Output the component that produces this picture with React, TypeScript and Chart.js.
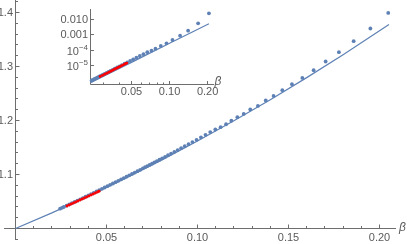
import React, { useEffect, useRef } from "react";
import { Chart, registerables } from "chart.js";

Chart.register(...registerables);

// ---------- main plot data ----------
const mainLineX = [0, 0.02, 0.04, 0.06, 0.08, 0.1, 0.12, 0.14, 0.16, 0.18, 0.2, 0.2052];
const mainLineY = [1, 1.029, 1.0598, 1.0922, 1.1262, 1.162, 1.1994, 1.2386, 1.2794, 1.3218, 1.366, 1.3778];

const mainBlueX = [
  0.0245, 0.0255, 0.0265, 0.028, 0.0295, 0.031, 0.0325, 0.034, 0.0355, 0.037, 0.0385, 0.04, 0.0415, 0.043,
  0.0445, 0.046, 0.0475, 0.049, 0.0505, 0.052, 0.0535, 0.055, 0.0565, 0.058, 0.0595, 0.061, 0.0625, 0.064,
  0.0655, 0.067, 0.0685, 0.07, 0.0712, 0.0724, 0.0737, 0.075, 0.0763, 0.0777, 0.0791, 0.0806, 0.0822, 0.0838,
  0.0855, 0.0873, 0.0891, 0.091, 0.093, 0.0951, 0.0972, 0.0995, 0.1019, 0.1044, 0.107, 0.1098, 0.1127, 0.1157,
  0.1186, 0.1219, 0.1254, 0.129, 0.1332, 0.1375, 0.1418, 0.1466, 0.1519, 0.1576, 0.1638, 0.1704, 0.1777,
  0.1858, 0.195, 0.2048,
];
const mainBlueY = [
  1.0367, 1.0383, 1.0398, 1.0422, 1.0445, 1.0469, 1.0492, 1.0516, 1.054, 1.0564, 1.0588, 1.0612, 1.0636, 1.0661,
  1.0685, 1.0709, 1.0734, 1.0759, 1.0783, 1.0808, 1.0833, 1.0858, 1.0883, 1.0908, 1.0934, 1.0959, 1.0984, 1.101,
  1.1036, 1.1061, 1.1087, 1.1114, 1.1135, 1.1156, 1.1178, 1.1201, 1.1224, 1.1248, 1.1273, 1.13, 1.1328, 1.1357,
  1.1387, 1.1419, 1.1452, 1.1487, 1.1523, 1.1562, 1.16, 1.1643, 1.1688, 1.1735, 1.1785, 1.1833, 1.1876, 1.1931,
  1.1995, 1.2061, 1.2122, 1.2204, 1.227, 1.237, 1.2456, 1.2561, 1.2672, 1.2789, 1.2931, 1.3093, 1.3265,
  1.3469, 1.3704, 1.3993,
];

const redX = [
  0.0283, 0.0295, 0.0307, 0.0319, 0.0331, 0.0343, 0.0355, 0.0367, 0.0379, 0.0391, 0.0403, 0.0415, 0.0427,
  0.0439, 0.0451, 0.0459,
];
const mainRedY = [
  1.0416, 1.0435, 1.0453, 1.0472, 1.0491, 1.0509, 1.0528, 1.0547, 1.0565, 1.0584, 1.0602, 1.0621, 1.064,
  1.0658, 1.0677, 1.069,
];

const mainXTicks = [0.05, 0.1, 0.15, 0.2];
const mainXLabels = ["0.05", "0.10", "0.15", "0.20"];
const mainXMinor = [0.01, 0.02, 0.03, 0.04, 0.06, 0.07, 0.08, 0.09, 0.11, 0.12, 0.13, 0.14, 0.16, 0.17, 0.18, 0.19];
const mainYTicks = [1.1, 1.2, 1.3, 1.4];
const mainYLabels = ["1.1", "1.2", "1.3", "1.4"];
const mainYMinor = [0.98, 1.02, 1.04, 1.06, 1.08, 1.12, 1.14, 1.16, 1.18, 1.22, 1.24, 1.26, 1.28, 1.32, 1.34, 1.36, 1.38, 1.42];

// ---------- inset (log-log) data ----------
const insetBlueX = [
  0.0242, 0.0248, 0.0255, 0.0263, 0.027, 0.0279, 0.0287, 0.0297, 0.0307, 0.0318, 0.0329, 0.0341, 0.0355,
  0.0369, 0.0385, 0.0402, 0.042, 0.0441, 0.0463, 0.0488, 0.0516, 0.0547, 0.0582, 0.0622, 0.0667, 0.072,
  0.0774, 0.0853, 0.0946, 0.1055, 0.1212, 0.1402, 0.1682, 0.2048,
];
const insetBlueY = [
  1.06e-6, 1.18e-6, 1.33e-6, 1.51e-6, 1.69e-6, 1.94e-6, 2.18e-6, 2.52e-6, 2.89e-6, 3.35e-6, 3.87e-6, 4.5e-6,
  5.32e-6, 6.27e-6, 7.49e-6, 8.98e-6, 1.08e-5, 1.32e-5, 1.63e-5, 2.03e-5, 2.56e-5, 3.27e-5, 4.25e-5, 5.61e-5,
  7.53e-5, 9.4e-5, 1.27e-4, 1.91e-4, 2.87e-4, 4.7e-4, 9.0e-4, 1.91e-3, 5.82e-3, 0.0262,
];
const insetRedY = [
  1.92e-6, 2.29e-6, 2.7e-6, 3.17e-6, 3.71e-6, 4.31e-6, 4.97e-6, 5.71e-6, 6.55e-6, 7.46e-6, 8.47e-6, 9.57e-6,
  1.08e-5, 1.21e-5, 1.36e-5, 1.46e-5,
];
const insetLineX = [0.0237, 0.05, 0.1, 0.15, 0.2048];
const insetLineY = [7.5e-7, 1.63e-5, 2.86e-4, 1.52e-3, 5.5e-3];

const insetXTicks = [0.05, 0.1, 0.2];
const insetXLabels = ["0.05", "0.10", "0.20"];
const insetXMinor = [0.03, 0.04, 0.06, 0.07, 0.08, 0.09];
const insetYTicks = [0.01, 0.001, 1e-4, 1e-5];
const insetYLabels: { base: string; exp?: string }[] = [
  { base: "0.010" },
  { base: "0.001" },
  { base: "10", exp: "\u22124" },
  { base: "10", exp: "\u22125" },
];

const BLUE = "rgb(94,129,181)";
const RED = "rgb(255,0,0)";
const AXIS = "#6e6e6e";
const LABEL = "#5a5a5a";
const FONT = "'Liberation Sans', Arial, sans-serif";

const zip = (xs: number[], ys: number[]) => xs.map((x, i) => ({ x, y: ys[i] }));
const snap = (v: number) => Math.round(v - 0.5) + 0.5;

function makeDatasets(lineX: number[], lineY: number[], bx: number[], by: number[], rx: number[], ry: number[]) {
  return [
    {
      data: zip(rx, ry),
      backgroundColor: RED,
      pointBackgroundColor: RED,
      pointBorderWidth: 0,
      pointRadius: 1.45,
      showLine: false,
      clip: false as const,
      order: 0,
    },
    {
      data: zip(bx, by),
      backgroundColor: BLUE,
      pointBackgroundColor: BLUE,
      pointBorderWidth: 0,
      pointRadius: 1.9,
      showLine: false,
      clip: false as const,
      order: 1,
    },
    {
      data: zip(lineX, lineY),
      borderColor: BLUE,
      borderWidth: 1.2,
      pointRadius: 0,
      showLine: true,
      fill: false,
      tension: 0,
      clip: false as const,
      order: 2,
    },
  ];
}

const mainAxesPlugin = {
  id: "mainAxes",
  beforeDatasetsDraw(chart: any) {
    const { ctx, chartArea } = chart;
    const xs = chart.scales.x;
    const ys = chart.scales.y;
    const x0 = snap(xs.getPixelForValue(0));
    const y0 = snap(ys.getPixelForValue(1));
    ctx.save();
    ctx.strokeStyle = AXIS;
    ctx.lineWidth = 1;
    ctx.beginPath();
    ctx.moveTo(chartArea.left, y0);
    ctx.lineTo(chartArea.right, y0);
    ctx.moveTo(x0, chartArea.top);
    ctx.lineTo(x0, chartArea.bottom);
    mainXTicks.forEach((v) => {
      const p = snap(xs.getPixelForValue(v));
      ctx.moveTo(p, y0);
      ctx.lineTo(p, y0 - 4);
    });
    mainXMinor.forEach((v) => {
      const p = snap(xs.getPixelForValue(v));
      ctx.moveTo(p, y0);
      ctx.lineTo(p, y0 - 2.5);
    });
    mainYTicks.forEach((v) => {
      const p = snap(ys.getPixelForValue(v));
      ctx.moveTo(x0, p);
      ctx.lineTo(x0 + 4, p);
    });
    mainYMinor.forEach((v) => {
      const p = snap(ys.getPixelForValue(v));
      if (p < chartArea.top || p > chartArea.bottom) return;
      ctx.moveTo(x0, p);
      ctx.lineTo(x0 + 2.5, p);
    });
    ctx.stroke();

    ctx.fillStyle = LABEL;
    ctx.font = `11px ${FONT}`;
    ctx.textBaseline = "middle";
    ctx.textAlign = "center";
    mainXTicks.forEach((v, i) => {
      ctx.fillText(mainXLabels[i], xs.getPixelForValue(v), y0 + 9);
    });
    ctx.textAlign = "right";
    mainYTicks.forEach((v, i) => {
      ctx.fillText(mainYLabels[i], x0 - 2.5, ys.getPixelForValue(v));
    });
    ctx.textAlign = "left";
    ctx.font = `italic 12px ${FONT}`;
    ctx.fillText("\u03b2", chartArea.right + 3, y0 - 0.5);
    ctx.restore();
  },
};

const insetAxesPlugin = {
  id: "insetAxes",
  beforeDatasetsDraw(chart: any) {
    const { ctx, chartArea } = chart;
    const xs = chart.scales.x;
    const ys = chart.scales.y;
    const x0 = snap(chartArea.left);
    const y0 = snap(chartArea.bottom);
    ctx.save();
    ctx.strokeStyle = AXIS;
    ctx.lineWidth = 1;
    ctx.beginPath();
    ctx.moveTo(x0, y0);
    ctx.lineTo(chartArea.right, y0);
    ctx.moveTo(x0, chartArea.top);
    ctx.lineTo(x0, y0);
    insetXTicks.forEach((v) => {
      const p = snap(xs.getPixelForValue(v));
      ctx.moveTo(p, y0);
      ctx.lineTo(p, y0 - 3.5);
    });
    insetXMinor.forEach((v) => {
      const p = snap(xs.getPixelForValue(v));
      ctx.moveTo(p, y0);
      ctx.lineTo(p, y0 - 2);
    });
    insetYTicks.forEach((v) => {
      const p = snap(ys.getPixelForValue(v));
      ctx.moveTo(x0, p);
      ctx.lineTo(x0 + 3.5, p);
    });
    ctx.stroke();

    ctx.fillStyle = LABEL;
    ctx.font = `11px ${FONT}`;
    ctx.textBaseline = "middle";
    ctx.textAlign = "center";
    insetXTicks.forEach((v, i) => {
      ctx.fillText(insetXLabels[i], xs.getPixelForValue(v), y0 + 7.5);
    });
    const right = x0 - 2.5;
    insetYTicks.forEach((v, i) => {
      const p = ys.getPixelForValue(v);
      const lab = insetYLabels[i];
      if (!lab.exp) {
        ctx.textAlign = "right";
        ctx.font = `11px ${FONT}`;
        ctx.fillText(lab.base, right, p);
      } else {
        ctx.textAlign = "left";
        ctx.font = `8px ${FONT}`;
        const we = ctx.measureText(lab.exp).width;
        ctx.font = `11px ${FONT}`;
        const wb = ctx.measureText(lab.base).width;
        const start = right - we - wb;
        ctx.fillText(lab.base, start, p + 1.5);
        ctx.font = `8px ${FONT}`;
        ctx.fillText(lab.exp, start + wb, p - 3);
      }
    });
    ctx.textAlign = "left";
    ctx.font = `italic 12px ${FONT}`;
    ctx.fillText("\u03b2", chartArea.right + 0.5, y0 - 2.5);
    ctx.restore();
  },
};

export default function App() {
  const mainRef = useRef<HTMLCanvasElement>(null);
  const insetRef = useRef<HTMLCanvasElement>(null);

  useEffect(() => {
    const common = {
      animation: false as const,
      responsive: false,
      devicePixelRatio: 1,
      events: [] as any[],
      plugins: { legend: { display: false }, tooltip: { enabled: false } },
    };
    const main = new Chart(mainRef.current!, {
      type: "scatter",
      data: { datasets: makeDatasets(mainLineX, mainLineY, mainBlueX, mainBlueY, redX, mainRedY) as any },
      options: {
        ...common,
        layout: { autoPadding: false, padding: { left: 4, right: 11, top: 0, bottom: 4 } },
        scales: {
          x: { type: "linear", display: false, min: -0.006319, max: 0.209066 },
          y: { type: "linear", display: false, min: 0.9787, max: 1.42315 },
        },
      } as any,
      plugins: [mainAxesPlugin],
    });
    const inset = new Chart(insetRef.current!, {
      type: "scatter",
      data: { datasets: makeDatasets(insetLineX, insetLineY, insetBlueX, insetBlueY, redX, insetRedY) as any },
      options: {
        ...common,
        layout: { autoPadding: false, padding: { left: 90.5, right: 193, top: 9, bottom: 159.5 } },
        scales: {
          x: { type: "logarithmic", display: false, min: 0.02372, max: 0.2246 },
          y: { type: "logarithmic", display: false, min: 5.82e-7, max: 0.05 },
        },
      } as any,
      plugins: [insetAxesPlugin],
    });
    return () => {
      main.destroy();
      inset.destroy();
    };
  }, []);

  return (
    <div style={{ position: "fixed", left: 0, top: 0, width: 407, height: 244, background: "#fff" }}>
      <canvas ref={mainRef} width={407} height={244} style={{ position: "absolute", left: 0, top: 0 }} />
      <canvas ref={insetRef} width={407} height={244} style={{ position: "absolute", left: 0, top: 0 }} />
    </div>
  );
}
